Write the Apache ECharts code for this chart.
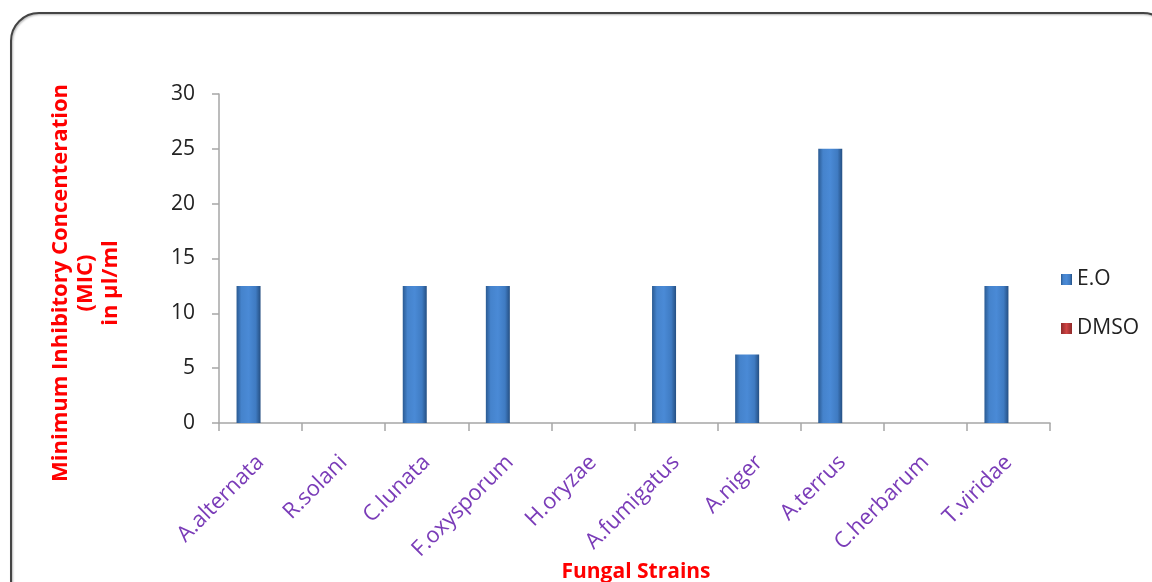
<!DOCTYPE html>
<html>
<head>
<meta charset="utf-8">
<script src="https://cdn.jsdelivr.net/npm/echarts@6/dist/echarts.min.js"></script>
<style>
  html, body { margin: 0; padding: 0; background: #fff; }
  #chart { width: 1152px; height: 582px; }
</style>
</head>
<body>
<div id="chart"></div>
<script>
const categories = ['A.alternata', 'R.solani', 'C.lunata', 'F.oxysporum', 'H.oryzae', 'A.fumigatus', 'A.niger', 'A.terrus', 'C.herbarum', 'T.viridae'];
const eoValues = [12.5, 0, 12.5, 12.5, 0, 12.5, 6.25, 25, 0, 12.5];
const dmsoValues = [0, 0, 0, 0, 0, 0, 0, 0, 0, 0];
const yTicks = { min: 0, max: 30, interval: 5 };
const seriesNames = ['E.O', 'DMSO'];

const FONT = '"Open Sans", "Liberation Sans", sans-serif';

const chart = echarts.init(document.getElementById('chart'), null, { renderer: 'canvas' });

const blueGrad = new echarts.graphic.LinearGradient(0, 0, 1, 0, [
  { offset: 0, color: '#2a5a92' },
  { offset: 0.2, color: '#4583cc' },
  { offset: 0.5, color: '#4a8ad6' },
  { offset: 0.8, color: '#3f7bc2' },
  { offset: 1, color: '#254f82' }
]);
const redGrad = new echarts.graphic.LinearGradient(0, 0, 1, 0, [
  { offset: 0, color: '#8e2a2a' },
  { offset: 0.5, color: '#d04444' },
  { offset: 1, color: '#8e2a2a' }
]);

chart.setOption({
  animation: false,
  backgroundColor: '#ffffff',
  grid: { left: 219, right: 102, top: 94, bottom: 159, containLabel: false },
  legend: {
    orient: 'vertical',
    left: 1056,
    top: 264,
    itemWidth: 11,
    itemHeight: 11,
    itemGap: 28,
    icon: 'rect',
    textStyle: { fontFamily: FONT, fontSize: 21, color: '#222' },
    data: seriesNames
  },
  xAxis: {
    type: 'category',
    data: categories,
    boundaryGap: true,
    axisLine: { lineStyle: { color: '#a6a6a6', width: 1.5 } },
    axisTick: { show: true, alignWithLabel: false, length: 8, lineStyle: { color: '#a6a6a6', width: 1.5 } },
    axisLabel: {
      rotate: 45,
      interval: 0,
      margin: 36,
      fontFamily: FONT,
      fontSize: 22,
      color: '#7a3cb8'
    },
    splitLine: { show: false }
  },
  yAxis: {
    type: 'value',
    min: yTicks.min,
    max: yTicks.max,
    interval: yTicks.interval,
    axisLine: { show: true, lineStyle: { color: '#a6a6a6', width: 1.5 } },
    axisTick: { show: true, length: 7, lineStyle: { color: '#a6a6a6', width: 1.5 } },
    axisLabel: { fontFamily: FONT, fontSize: 21, color: '#222', margin: 24 },
    splitLine: { show: false }
  },
  series: [
    {
      name: seriesNames[0],
      type: 'bar',
      data: eoValues,
      barWidth: 24,
      barGap: '0%',
      itemStyle: { color: blueGrad, borderWidth: 0 }
    },
    {
      name: seriesNames[1],
      type: 'bar',
      data: dmsoValues,
      barWidth: 24,
      itemStyle: { color: redGrad, borderWidth: 0 }
    }
  ],
  graphic: [
    {
      type: 'rect',
      shape: { x: 11, y: 13, width: 1160, height: 600, r: 28 },
      style: { fill: 'none', stroke: '#444', lineWidth: 2, shadowColor: 'rgba(0,0,0,0.3)', shadowBlur: 2, shadowOffsetX: 1, shadowOffsetY: 1 },
      silent: true,
      z: -1
    },
    {
      type: 'text',
      x: 86,
      y: 283,
      rotation: Math.PI / 2,
      style: {
        text: 'Minimum Inhibitory Concenteration\n(MIC)\nin µl/ml',
        fontFamily: FONT,
        fontSize: 22,
        fontWeight: 'bold',
        fill: '#ff0000',
        align: 'center',
        verticalAlign: 'middle',
        lineHeight: 25
      }
    },
    {
      type: 'text',
      x: 636,
      y: 572,
      style: {
        text: 'Fungal Strains',
        fontFamily: FONT,
        fontSize: 21,
        fontWeight: 'bold',
        fill: '#ff0000',
        align: 'center',
        verticalAlign: 'middle'
      }
    }
  ]
});
</script>
</body>
</html>
